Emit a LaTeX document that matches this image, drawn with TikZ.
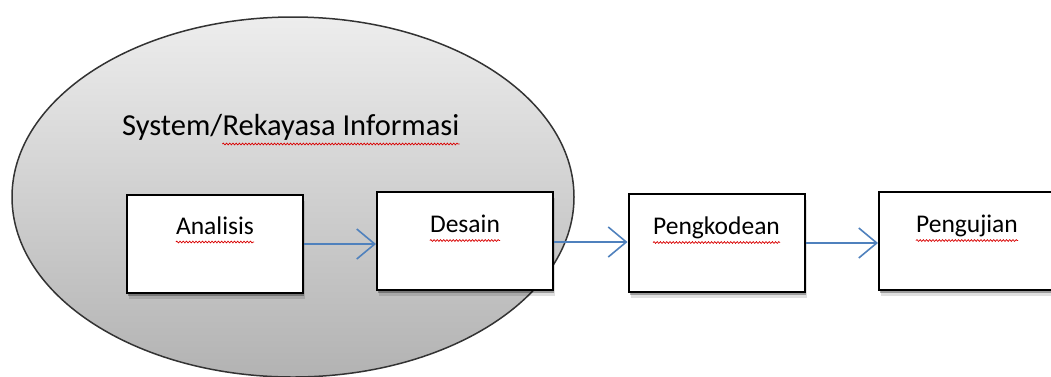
\documentclass[tikz,border=0pt]{standalone}
\usepackage{fontspec}
\setmainfont{Carlito}
\usepackage{xcolor}
\usetikzlibrary{arrows.meta,positioning,shadows,decorations.pathmorphing}

\definecolor{flowblue}{HTML}{4F81BD}

\begin{document}
\begin{tikzpicture}[x=1pt, y=-1pt,
  stage/.style={draw, line width=2pt, fill=white, minimum width=176pt,
    minimum height=98pt, inner sep=0pt,
    drop shadow={shadow xshift=1pt, shadow yshift=-3pt, opacity=.30, fill=black},
    drop shadow={shadow xshift=2pt, shadow yshift=-6pt, opacity=.12, fill=black}},
  lbl/.style={font=\fontsize{25.5}{30}\selectfont, inner sep=0pt},
  ttl/.style={font=\fontsize{30.5}{36}\selectfont, inner sep=0pt},
  flow/.style={-{Straight Barb[length=18pt, width=30pt, line width=1.6pt]},
    flowblue, line width=1.5pt},
  typo/.style={red!85!black, line width=0.7pt,
    decorate, decoration={snake, segment length=3.2pt, amplitude=0.9pt}}]

  \useasboundingbox (0,0) rectangle (1051,376);
  \fill[white] (0,0) rectangle (1051,376);

  % system / information engineering area
  \draw[line width=1.5pt, black!80, top color=black!7, bottom color=black!30]
    (293,197) ellipse [x radius=281, y radius=180];
  \node[ttl, anchor=base west] (sys) at (122,135) {System/};
  \node[ttl, anchor=base west] (rek) at (sys.base east) {Rekayasa Informasi};

  \node[stage] (an) at (215,244) {};
  \node[stage] (de) at (465,240.5) {};
  \node[stage] (pk) at (716.5,242.5) {};
  \node[stage] (pj) at (967,240.5) {};

  \node[lbl, anchor=base] (anL) at ([yshift=-40pt]an.north) {Analisis};
  \node[lbl, anchor=base] (deL) at ([yshift=-42pt]de.north) {Desain};
  \node[lbl, anchor=base] (pkL) at ([yshift=-42pt]pk.north) {Pengkodean};
  \node[lbl, anchor=base] (pjL) at ([yshift=-42pt]pj.north) {Pengujian};

  \draw[flow] (an.east) -- (an.east -| de.west);
  \draw[flow] ([yshift=-1.5pt]de.east) -- ([yshift=-1.5pt]de.east -| pk.west);
  \draw[flow] ([yshift=-0.5pt]pk.east) -- ([yshift=-0.5pt]pk.east -| pj.west);

  % spelling marks
  \foreach \w in {anL,deL,pkL,pjL}
    \draw[typo] ([yshift=-8pt]\w.base west) -- ([yshift=-8pt]\w.base east);
  \draw[typo] ([yshift=-9pt]rek.base west) -- ([yshift=-9pt]rek.base east);
\end{tikzpicture}
\end{document}
